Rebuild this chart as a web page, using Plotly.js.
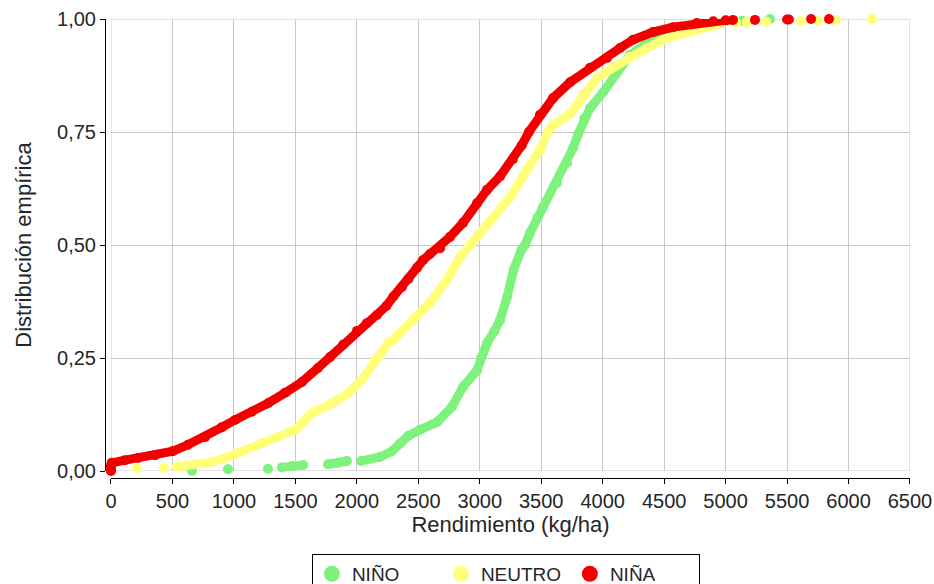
<!DOCTYPE html>
<html>
<head>
<meta charset="utf-8">
<script src="https://cdn.plot.ly/plotly-3.0.1.min.js"></script>
<style>html,body{margin:0;padding:0;background:#fff;}#chart{width:934px;height:584px;}</style>
</head>
<body>
<div id="chart"></div>
<script>
// Series names
const seriesNames = ["NIÑO", "NEUTRO", "NIÑA"];

// NIÑO (El Niño) empirical distribution: yield (kg/ha) and cumulative probability (null = gap between isolated points)
const ninoX = [659, null, 952, null, 1277, null, 1391, 1473, 1562, null, 1765, 1847, 1920, null,
  2035, 2188, 2283, 2351, 2420, 2514, 2652, 2774, 2864, 2978, 3010, 3059, 3120, 3165, 3222, 3275,
  3340, 3368, 3409, 3470, 3515, 3628, 3710, 3760, 3800, 3850, 3897, 4003, 4116, 4222, 4361, 4523,
  4700, 4900, 4990, null, 5134, null, 5361];
const ninoY = [0.000, null, 0.004, null, 0.005, null, 0.008, 0.011, 0.013, null, 0.015, 0.018, 0.022, null,
  0.022, 0.031, 0.043, 0.061, 0.078, 0.091, 0.108, 0.142, 0.186, 0.223, 0.250, 0.283, 0.310, 0.334, 0.385, 0.445,
  0.490, 0.500, 0.527, 0.560, 0.584, 0.637, 0.681, 0.715, 0.745, 0.780, 0.803, 0.838, 0.883, 0.920, 0.947, 0.965,
  0.979, 0.990, 0.994, null, 0.996, null, 1.000];

// NEUTRO
const neutroX = [212, null, 430, null, 536, 617, 683, 821, 952, 1090, 1228, 1359, 1497, 1554, 1635, 1798,
  1931, 2039, 2148, 2256, 2294, 2457, 2595, 2733, 2839, 2921, 3000, 3108, 3246, 3384, 3490, 3555, 3596,
  3734, 3840, 3954, 4084, 4222, 4361, 4523, 4686, 4849, 4979, null, 5085, null, 5174, null, 5329, null,
  5613, null, 5752, null, 5898, null, 6191];
const neutroY = [0.006, null, 0.007, null, 0.009, 0.012, 0.015, 0.020, 0.031, 0.046, 0.062, 0.075, 0.091, 0.106, 0.128, 0.150,
  0.172, 0.201, 0.246, 0.283, 0.290, 0.334, 0.372, 0.423, 0.473, 0.500, 0.525, 0.560, 0.606, 0.666, 0.710, 0.750, 0.765,
  0.790, 0.832, 0.869, 0.892, 0.916, 0.936, 0.958, 0.971, 0.982, 0.991, null, 0.992, null, 0.993, null, 0.994, null,
  0.995, null, 0.996, null, 0.998, null, 1.000];

// NIÑA
const ninaX = [0, 0, 0, 6, 114, 220, 358, 504, 626, 765, 903, 1009, 1147, 1277, 1416, 1554, 1684, 1782,
  1890, 2001, 2080, 2164, 2240, 2297, 2367, 2420, 2490, 2540, 2595, 2677, 2758, 2864, 2978, 3059, 3165,
  3270, 3340, 3400, 3490, 3596, 3734, 3897, 4035, 4141, 4247, 4409, 4572, 4767, 4900, 5000, 5060, null,
  5239, null, 5500, 5515, null, 5695, null, 5841];
const ninaY = [0.000, 0.006, 0.012, 0.018, 0.024, 0.029, 0.035, 0.044, 0.058, 0.075, 0.097, 0.113, 0.131, 0.150, 0.173, 0.197, 0.228, 0.252,
  0.280, 0.310, 0.327, 0.345, 0.365, 0.386, 0.407, 0.425, 0.450, 0.467, 0.480, 0.493, 0.518, 0.549, 0.593, 0.622, 0.652,
  0.690, 0.720, 0.750, 0.788, 0.825, 0.860, 0.892, 0.914, 0.936, 0.954, 0.971, 0.982, 0.991, 0.995, 0.997, 0.998, null,
  0.998, null, 0.999, 0.999, null, 1.000, null, 1.000];

// Axis ticks
const xTicks = [0, 500, 1000, 1500, 2000, 2500, 3000, 3500, 4000, 4500, 5000, 5500, 6000, 6500];
const yTicks = [0, 0.25, 0.5, 0.75, 1];

const colors = ["#7DF27D", "#FFFF7A", "#F20000"];
const seriesX = [ninoX, neutroX, ninaX];
const seriesY = [ninoY, neutroY, ninaY];

const traces = [];
for (let i = 0; i < 3; i++) {
  traces.push({
    type: "scatter", mode: "lines+markers", x: seriesX[i], y: seriesY[i],
    connectgaps: false, cliponaxis: false, showlegend: false,
    line: {color: colors[i], width: 9},
    marker: {color: colors[i], size: 10, line: {width: 0}},
    hoverinfo: "skip", legendgroup: seriesNames[i]
  });
}
for (let i = 0; i < 3; i++) {
  traces.push({
    type: "scatter", mode: "markers", x: [null], y: [null], name: seriesNames[i],
    legendgroup: seriesNames[i],
    marker: {color: colors[i], size: 16, line: {width: 0}}
  });
}

const fnt = "Liberation Sans, Arial, sans-serif";
const gridC = "#c8c8c8";
const layout = {
  width: 934, height: 584,
  margin: {l: 105, r: 24, t: 19, b: 106, autoexpand: false},
  paper_bgcolor: "#ffffff", plot_bgcolor: "#ffffff",
  separators: ",.",
  font: {family: fnt, color: "#262626"},
  xaxis: {
    domain: [0.00745, 1], range: [0, 6500], anchor: "free", position: 0,
    tickvals: xTicks, tickformat: "d", showgrid: true, gridcolor: gridC, gridwidth: 1,
    zeroline: false, showline: true, linecolor: "#000", linewidth: 1,
    ticks: "outside", ticklen: 5, tickcolor: "#000",
    tickfont: {size: 20, family: fnt, color: "#262626"},
    title: {text: "Rendimiento (kg/ha)", font: {size: 22, family: fnt, color: "#262626"}, standoff: 5}
  },
  yaxis: {
    domain: [0.01525, 1], range: [0, 1], anchor: "free", position: 0,
    tickvals: yTicks, tickformat: ".2f", showgrid: true, gridcolor: gridC, gridwidth: 1,
    zeroline: false, showline: true, linecolor: "#000", linewidth: 1,
    ticks: "outside", ticklen: 5, tickcolor: "#000",
    tickfont: {size: 20, family: fnt, color: "#262626"},
    title: {text: "Distribución empírica", font: {size: 22, family: fnt, color: "#262626"}, standoff: 18}
  },
  shapes: [{type: "rect", xref: "x", yref: "y", x0: 0, x1: 6500, y0: 0, y1: 1,
    line: {color: gridC, width: 1}, layer: "below"}],
  showlegend: true,
  legend: {
    orientation: "h", x: 0.257, xanchor: "left", y: -0.1656, yanchor: "top",
    bordercolor: "#000", borderwidth: 1, bgcolor: "#ffffff",
    font: {size: 19, family: fnt, color: "#262626"},
    entrywidth: 84, itemsizing: "trace"
  }
};

Plotly.newPlot("chart", traces, layout, {staticPlot: true, displayModeBar: false});
</script>
</body>
</html>
